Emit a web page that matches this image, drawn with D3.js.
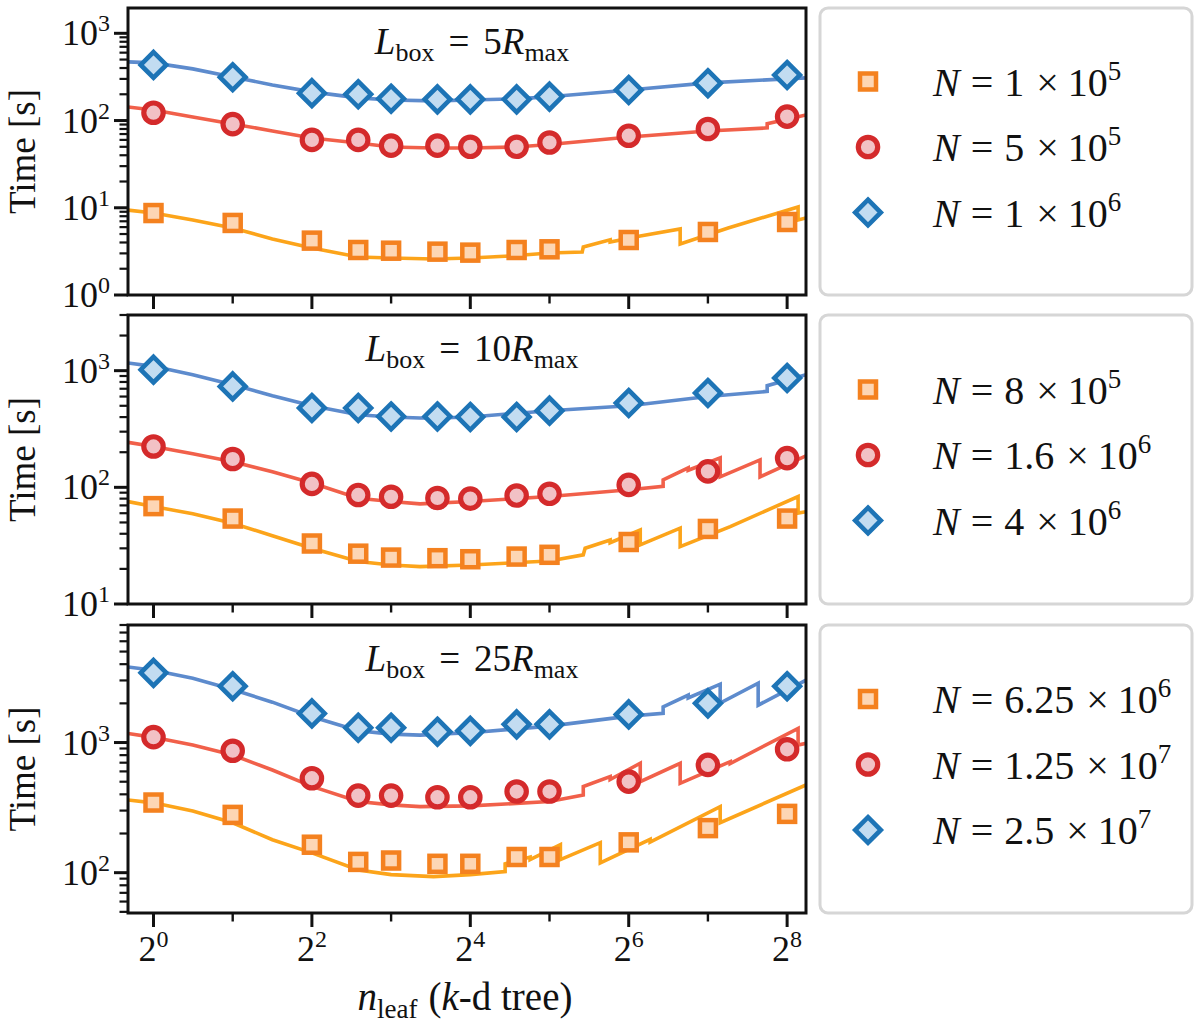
<!DOCTYPE html>
<html>
<head>
<meta charset="utf-8">
<script src="https://cdn.jsdelivr.net/npm/d3@7"></script>
<style>
  body { margin: 0; background: #fff; }
  svg text { font-family: "Liberation Serif", "Times New Roman", serif; fill: #111; }
</style>
</head>
<body>
<div id="container"></div>
<script>
/* DATA */
const nleaf = [1, 2, 4, 6, 8, 12, 16, 24, 32, 64, 128, 256];

// measured run times, L_box = 5 R_max
const box5_N1e5 = [8.7, 6.7, 4.2, 3.28, 3.22, 3.14, 3.06, 3.28, 3.34, 4.27, 5.28, 6.87];
const box5_N5e5 = [123, 91, 60, 60, 51.5, 51.5, 50, 50, 56, 67, 80, 111];
const box5_N1e6 = [434, 314, 206, 200, 178, 175, 175, 175, 188, 224, 268, 333];

// L_box = 10 R_max
const box10_N8e5 = [69, 54, 33, 27, 25, 24.7, 24.2, 25.5, 26.4, 34, 44, 54];
const box10_N16e5 = [224, 175, 107, 86, 83, 81, 80, 85, 88, 105, 137, 178];
const box10_N4e6 = [1020, 733, 479, 479, 405, 405, 401, 401, 454, 528, 644, 865];

// L_box = 25 R_max
const box25_N625e4 = [346, 278, 164, 121, 124, 117, 117, 132, 132, 171, 220, 283];
const box25_N125e5 = [1100, 865, 532, 391, 391, 380, 380, 420, 420, 501, 673, 887];
const box25_N25e6 = [3430, 2710, 1675, 1300, 1300, 1210, 1230, 1380, 1380, 1645, 2000, 2710];

// model curves, [nleaf, time]
const box5_N1e5_model = [[0.8, 9.4], [1, 8.7], [1.41, 7.25], [2, 5.87], [2.83, 4.39], [4, 3.46], [6, 2.73], [8, 2.66], [11.6, 2.59], [16, 2.66], [22.7, 2.8], [32, 3.03], [42.6, 3.11], [43, 3.55], [54.4, 4.3], [54.4, 4.05], [70.8, 4.75], [100.4, 5.71], [100.4, 3.85], [152.8, 5.87], [281.8, 10.2], [281.8, 7.25], [302, 7.64]];
const box5_N5e5_model = [[0.8, 143], [1, 132], [1.41, 110], [2, 91.4], [2.83, 76], [4, 63.1], [6, 55.3], [8, 49.8], [11.6, 48.5], [16, 48.5], [23.9, 49.8], [32, 53.2], [64.3, 64.8], [128, 76], [215, 82.3], [215, 92], [302, 116]];
const box5_N1e6_model = [[0.8, 470], [1, 458], [1.41, 391], [2, 316], [2.83, 256], [4, 213], [6, 182], [8, 172], [11.6, 168], [16, 172], [23.9, 177], [32, 187], [64.3, 224], [128, 270], [302, 308]];

const box10_N8e5_model = [[0.8, 75.5], [1, 68.4], [1.41, 59.3], [2, 49.3], [2.83, 38.4], [4, 30.1], [6, 23.1], [8, 21.6], [10.3, 20.9], [16, 21.6], [32, 23.4], [43, 26.4], [43.7, 30.1], [54.4, 35.4], [54.4, 33.5], [70.8, 43.1], [70.8, 32.1], [100.4, 44.7], [100.4, 31], [155.6, 46.1], [281.8, 83.4], [281.8, 60.1], [302, 61.7]];
const box10_N16e5_model = [[0.8, 243], [1, 224], [1.41, 194], [2, 166], [2.83, 136], [4, 109], [6, 80.7], [8, 75.5], [10.3, 72.1], [16, 75.5], [32, 83.4], [64.3, 95.3], [86.5, 102], [86.5, 116], [107.7, 147], [107.7, 140], [142.5, 179], [142.5, 123], [202, 172], [202, 123], [302, 186]];
const box10_N4e6_model = [[0.8, 1164], [1, 1089], [1.41, 924], [2, 759], [2.83, 610], [4, 501], [6, 419], [8, 401], [10.3, 393], [12, 393], [16, 401], [32, 454], [64.3, 501], [128, 601], [215, 664], [215, 743], [302, 924]];

const box25_N625e4_model = [[0.8, 362], [1, 344], [1.41, 298], [2, 242], [2.83, 179], [4, 142], [6, 105], [8, 96.6], [11.6, 93.2], [16, 96.6], [21.7, 102], [21.7, 117], [27, 132], [27, 126], [35.2, 164], [35.2, 126], [49.9, 170], [49.9, 119], [77.2, 180], [77.2, 172], [142.5, 321], [142.5, 242], [302, 472]];
const box25_N125e5_model = [[0.8, 1175], [1, 1096], [1.41, 957], [2, 802], [2.83, 615], [4, 460], [6, 352], [8, 332], [10.3, 322], [16, 326], [32, 352], [43, 395], [43, 459], [54.4, 547], [54.4, 520], [70.8, 693], [70.8, 501], [100.4, 693], [100.4, 486], [155.6, 713], [155.6, 690], [281.8, 1285], [281.8, 957], [302, 986]];
const box25_N25e6_model = [[0.8, 3810], [1, 3594], [1.41, 3120], [2, 2558], [2.83, 2042], [4, 1578], [6, 1231], [8, 1161], [10.3, 1140], [12, 1161], [16, 1189], [32, 1337], [64.3, 1596], [86.5, 1675], [86.5, 1880], [107.7, 2313], [107.7, 2200], [142.5, 2806], [142.5, 2009], [198.7, 2858], [198.7, 1936], [302, 3016]];

// labels and axes
const boxSizes = ["5", "10", "25"];
const legendMantissa = [["1", "5", "1"], ["8", "1.6", "4"], ["6.25", "1.25", "2.5"]];
const legendExponent = [["5", "5", "6"], ["5", "6", "6"], ["6", "7", "7"]];
const yDomains = [[1, 1950], [10, 3000], [49, 8000]];
const xDomain = [0.8, 302];
const xTickExps = [0, 1, 2, 3, 4, 5, 6, 7, 8];

/* CONSTANTS */
const width = 1200, height = 1024;
const left = 128, right = 806;
const tops = [8, 315, 625], bottoms = [295, 604, 913];
const lineColors = ["#fca41a", "#f1604a", "#5d8bcd"];
const edgeColors = ["#f4811f", "#d42a2b", "#1d74b6"];
const fillColors = ["#fdd6b4", "#f2c1c5", "#c2dcf1"];

const panelData = [
  [[box5_N1e5, box5_N1e5_model], [box5_N5e5, box5_N5e5_model], [box5_N1e6, box5_N1e6_model]],
  [[box10_N8e5, box10_N8e5_model], [box10_N16e5, box10_N16e5_model], [box10_N4e6, box10_N4e6_model]],
  [[box25_N625e4, box25_N625e4_model], [box25_N125e5, box25_N125e5_model], [box25_N25e6, box25_N25e6_model]]
];

const svg = d3.select("#container")
  .append("svg")
  .attr("width", width)
  .attr("height", height);

svg.append("rect").attr("width", width).attr("height", height).attr("fill", "#fff");

const x = d3.scaleLog().base(2).domain(xDomain).range([left, right]);

function marker(g, kind, cx, cy) {
  if (kind === 0) {
    g.append("rect")
      .attr("x", cx - 8).attr("y", cy - 8)
      .attr("width", 16).attr("height", 16)
      .attr("fill", fillColors[0]).attr("stroke", edgeColors[0]).attr("stroke-width", 4.5);
  } else if (kind === 1) {
    g.append("circle")
      .attr("cx", cx).attr("cy", cy).attr("r", 9.7)
      .attr("fill", fillColors[1]).attr("stroke", edgeColors[1]).attr("stroke-width", 5.2);
  } else {
    const s = 12.8;
    g.append("path")
      .attr("d", `M${cx},${cy - s}L${cx + s},${cy}L${cx},${cy + s}L${cx - s},${cy}Z`)
      .attr("fill", fillColors[2]).attr("stroke", edgeColors[2]).attr("stroke-width", 4.6)
      .attr("stroke-linejoin", "miter");
  }
}

panelData.forEach((series, p) => {
  const top = tops[p], bottom = bottoms[p];
  const y = d3.scaleLog().domain(yDomains[p]).range([bottom, top]);
  const g = svg.append("g");

  // clip
  svg.append("clipPath").attr("id", "clip" + p)
    .append("rect").attr("x", left).attr("y", top).attr("width", right - left).attr("height", bottom - top);

  // model lines
  const line = d3.line().x(d => x(d[0])).y(d => y(d[1]));
  const plot = g.append("g").attr("clip-path", `url(#clip${p})`);
  series.forEach(([pts, model], k) => {
    plot.append("path")
      .attr("d", line(model))
      .attr("fill", "none")
      .attr("stroke", lineColors[k])
      .attr("stroke-width", 3.6)
      .attr("stroke-linejoin", "miter");
  });
  // measured points
  series.forEach(([pts, model], k) => {
    pts.forEach((t, i) => marker(plot, k, x(nleaf[i]), y(t)));
  });

  // y ticks
  const [y0, y1] = yDomains[p];
  for (let e = Math.floor(Math.log10(y0)); e <= Math.ceil(Math.log10(y1)); e++) {
    for (let m = 1; m <= 9; m++) {
      const v = m * Math.pow(10, e);
      if (v < y0 * 0.999 || v > y1 * 1.001) continue;
      const yy = y(v);
      const len = m === 1 ? 14 : 8.5;
      g.append("line")
        .attr("x1", left - len).attr("x2", left).attr("y1", yy).attr("y2", yy)
        .attr("stroke", "#111").attr("stroke-width", m === 1 ? 3 : 2.2);
      if (m === 1) {
        const t = g.append("text")
          .attr("x", 110).attr("y", yy + 12)
          .attr("text-anchor", "end")
          .attr("font-size", 36)
          .text("10");
        t.append("tspan").attr("dy", -14).attr("font-size", 24).text(e);
      }
    }
  }

  // x ticks
  xTickExps.forEach(e => {
    const xx = x(Math.pow(2, e));
    const major = e % 2 === 0;
    g.append("line")
      .attr("x1", xx).attr("x2", xx).attr("y1", bottom).attr("y2", bottom + (major ? 14 : 8.5))
      .attr("stroke", "#111").attr("stroke-width", major ? 3 : 2.4);
    if (p === 2 && major) {
      const t = g.append("text")
        .attr("x", xx).attr("y", 961)
        .attr("text-anchor", "middle")
        .attr("font-size", 36)
        .text("2");
      t.append("tspan").attr("dy", -14).attr("font-size", 24).text(e);
    }
  });

  // frame
  g.append("rect")
    .attr("x", left).attr("y", top).attr("width", right - left).attr("height", bottom - top)
    .attr("fill", "none").attr("stroke", "#111").attr("stroke-width", 3);

  // panel title
  const title = g.append("text")
    .attr("x", 472).attr("y", top + 46)
    .attr("text-anchor", "middle")
    .attr("font-size", 37);
  title.append("tspan").attr("font-style", "italic").text("L");
  title.append("tspan").attr("font-size", 26).attr("dy", 7).text("box");
  title.append("tspan").attr("dy", -7).attr("dx", 14).text("=");
  title.append("tspan").attr("dx", 14).text(boxSizes[p]);
  title.append("tspan").attr("font-style", "italic").text("R");
  title.append("tspan").attr("font-size", 26).attr("dy", 7).text("max");

  // y label
  svg.append("text")
    .attr("transform", `translate(35,${(top + bottom) / 2}) rotate(-90)`)
    .attr("text-anchor", "middle")
    .attr("font-size", 37)
    .text("Time [s]");

  // legend
  const lg = svg.append("g");
  lg.append("rect")
    .attr("x", 820).attr("y", top).attr("width", 372).attr("height", bottom - top)
    .attr("rx", 8).attr("ry", 8)
    .attr("fill", "#fff").attr("stroke", "#d6d6d6").attr("stroke-width", 3);
  const mid = (top + bottom) / 2;
  [0, 1, 2].forEach(k => {
    const ry = mid - 70 + k * 65.5;
    marker(lg, k, 868, ry);
    const t = lg.append("text").attr("x", 933).attr("y", ry + 14).attr("font-size", 40);
    t.append("tspan").attr("font-style", "italic").text("N");
    t.append("tspan").attr("dx", 11).text("=");
    t.append("tspan").attr("dx", 11).text(legendMantissa[p][k]);
    t.append("tspan").attr("dx", 12).text("×");
    t.append("tspan").attr("dx", 9).text("10");
    t.append("tspan").attr("dy", -16).attr("font-size", 27).text(legendExponent[p][k]);
  });
});

// x label
const xl = svg.append("text")
  .attr("x", 465).attr("y", 1010)
  .attr("text-anchor", "middle")
  .attr("font-size", 39);
xl.append("tspan").attr("font-style", "italic").text("n");
xl.append("tspan").attr("font-size", 27).attr("dy", 8).text("leaf");
xl.append("tspan").attr("dy", -8).attr("dx", 11).text("(");
xl.append("tspan").attr("font-style", "italic").text("k");
xl.append("tspan").text("-d tree)");
</script>
</body>
</html>
